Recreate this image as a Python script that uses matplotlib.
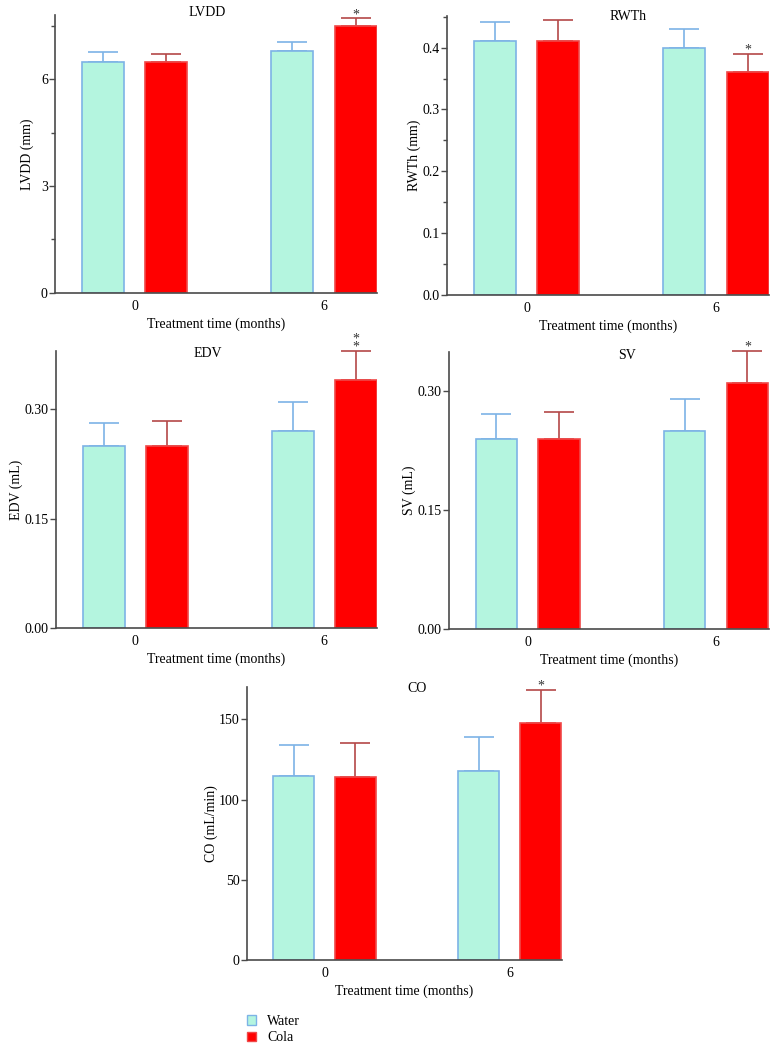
import matplotlib
matplotlib.use("Agg")
import matplotlib.pyplot as plt
from matplotlib.patches import Patch
from matplotlib.ticker import MultipleLocator, FormatStrFormatter

plt.rcParams['font.family'] = ['Liberation Serif', 'DejaVu Serif']
plt.rcParams['font.size'] = 10

groups = ["0", "6"]
series = ["Water", "Cola"]

lvdd_water = [6.49, 6.79]
lvdd_water_err = [0.26, 0.26]
lvdd_cola = [6.48, 7.49]
lvdd_cola_err = [0.21, 0.21]

rwth_water = [0.41, 0.40]
rwth_water_err = [0.031, 0.030]
rwth_cola = [0.41, 0.361]
rwth_cola_err = [0.034, 0.029]

edv_water = [0.250, 0.270]
edv_water_err = [0.031, 0.040]
edv_cola = [0.250, 0.340]
edv_cola_err = [0.034, 0.040]

sv_water = [0.240, 0.250]
sv_water_err = [0.031, 0.040]
sv_cola = [0.240, 0.310]
sv_cola_err = [0.034, 0.041]

co_water = [114.6, 117.8]
co_water_err = [19.2, 21.0]
co_cola = [114.4, 147.9]
co_cola_err = [21.2, 20.7]

water_fill = '#b4f5df'
water_edge = '#7db3e6'
cola_fill = '#ff0000'
cola_edge = '#f04848'
cola_err = '#b44848'
spine_col = '#4a4a4a'

W = 0.222
D = 0.167

panels = [
    # title, ylabel, water, werr, cola, cerr, ylim, major, minor, fmt, stars, rect, title_pos, ylabel_x
    ("LVDD", "LVDD (mm)", lvdd_water, lvdd_water_err, lvdd_cola, lvdd_cola_err,
     (0, 7.8), 3, 1.5, None, "*", [0.0707, 0.721, 0.414, 0.2648], (0.472, 1.01), -0.065),
    ("RWTh", "RWTh (mm)", rwth_water, rwth_water_err, rwth_cola, rwth_cola_err,
     (0, 0.451), 0.1, 0.05, '%.1f', "*", [0.5746, 0.719, 0.414, 0.2657], (0.562, 1.0), -0.082),
    ("EDV", "EDV (mL)", edv_water, edv_water_err, edv_cola, edv_cola_err,
     (0, 0.38), 0.15, None, '%.2f', "*\n*", [0.072, 0.4019, 0.4126, 0.264], (0.473, 0.99), -0.104),
    ("SV", "SV (mL)", sv_water, sv_water_err, sv_cola, sv_cola_err,
     (0, 0.35), 0.15, None, '%.2f', "*", [0.577, 0.401, 0.411, 0.264], (0.556, 0.986), -0.104),
    ("CO", "CO (mL/min)", co_water, co_water_err, co_cola, co_cola_err,
     (0, 170), 50, None, None, "*", [0.317, 0.0857, 0.405, 0.2597], (0.54, 0.994), -0.092),
]

fig = plt.figure(figsize=(7.78, 10.5), dpi=100)

for (title, ylabel, wv, we, cv, ce, ylim, major, minor, fmt, stars, rect, tpos, ylx) in panels:
    ax = fig.add_axes(rect)
    xs = range(len(groups))
    xw = [x - D for x in xs]
    xc = [x + D for x in xs]
    ax.bar(xw, wv, W, color=water_fill, edgecolor=water_edge, linewidth=1.2, zorder=2)
    ax.bar(xc, cv, W, color=cola_fill, edgecolor=cola_edge, linewidth=1.2, zorder=2)
    ax.errorbar(xw, wv, yerr=[[0] * len(we), we], fmt='none', ecolor=water_edge,
                elinewidth=1.2, capsize=10.5, capthick=1.2, zorder=1, clip_on=False)
    ax.errorbar(xc, cv, yerr=[[0] * len(ce), ce], fmt='none', ecolor=cola_err,
                elinewidth=1.2, capsize=10.5, capthick=1.2, zorder=1, clip_on=False)
    # significance mark above the cola bar at 6 months
    ax.annotate(stars, xy=(xc[1], cv[1] + ce[1]), xytext=(0, -2),
                textcoords='offset points', ha='center', va='bottom',
                fontsize=10, linespacing=0.5, color='#333333',
                annotation_clip=False)

    ax.set_xlim(-0.42, 1.28)
    ax.set_ylim(*ylim)
    ax.yaxis.set_major_locator(MultipleLocator(major))
    if minor:
        ax.yaxis.set_minor_locator(MultipleLocator(minor))
        ax.tick_params(axis='y', which='minor', length=3, width=1, color=spine_col)
    if fmt:
        ax.yaxis.set_major_formatter(FormatStrFormatter(fmt))
    ax.set_xticks(list(xs))
    ax.set_xticklabels(groups)
    ax.tick_params(axis='x', length=0, pad=5)
    ax.tick_params(axis='y', which='major', length=4, width=1, color=spine_col, pad=1.2)
    for s in ('top', 'right'):
        ax.spines[s].set_visible(False)
    for s in ('left', 'bottom'):
        ax.spines[s].set_color(spine_col)
        ax.spines[s].set_linewidth(1.2)
    ax.set_xlabel("Treatment time (months)", labelpad=3)
    ax.set_ylabel(ylabel)
    ax.yaxis.set_label_coords(ylx, 0.5)
    ax.text(tpos[0], tpos[1], title, transform=ax.transAxes, ha='center', va='center')

handles = [Patch(facecolor=water_fill, edgecolor=water_edge, label=series[0]),
           Patch(facecolor=cola_fill, edgecolor=cola_edge, label=series[1])]
fig.legend(handles=handles, loc='upper left', bbox_to_anchor=(0.308, 0.04),
           frameon=False, handlelength=0.7, handleheight=0.7, handletextpad=0.8,
           labelspacing=0.25, borderpad=0, fontsize=10)

fig.savefig("out.png", dpi=100)
